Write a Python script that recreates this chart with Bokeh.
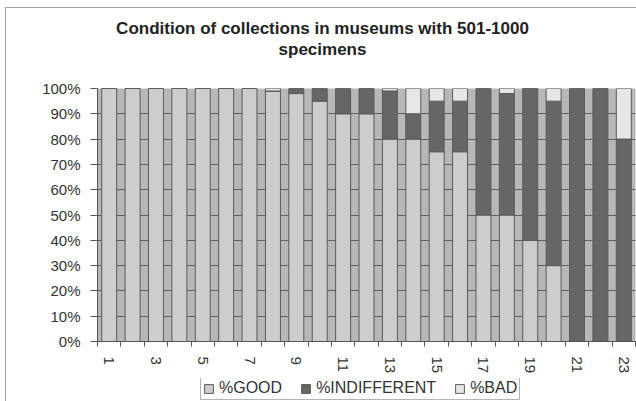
from bokeh.plotting import figure
from bokeh.layouts import column
from bokeh.models import (ColumnDataSource, FixedTicker, PrintfTickFormatter,
                          Legend, LegendItem, Title, InlineStyleSheet)
from bokeh.embed import file_html
from bokeh.resources import INLINE

# Museum index (x categories)
museums = list(range(1, 24))

# Share of the collection in each condition, per museum (percent)
pct_good = [100, 100, 100, 100, 100, 100, 100, 99, 98, 95, 90, 90,
            80, 80, 75, 75, 50, 50, 40, 30, 0, 0, 0]
pct_indifferent = [0, 0, 0, 0, 0, 0, 0, 0, 2, 5, 10, 10,
                   19, 10, 20, 20, 50, 48, 60, 65, 100, 100, 80]
pct_bad = [0, 0, 0, 0, 0, 0, 0, 1, 0, 0, 0, 0,
           1, 10, 5, 5, 0, 2, 0, 5, 0, 0, 20]

series_keys = ["good", "indifferent", "bad"]
series_names = ["%GOOD", "%INDIFFERENT", "%BAD"]
series_colors = ["#cdcdcd", "#666666", "#e6e6e6"]

y_ticks = [0, 10, 20, 30, 40, 50, 60, 70, 80, 90, 100]
x_label_ticks = [1, 3, 5, 7, 9, 11, 13, 15, 17, 19, 21, 23]

title_lines = ["Condition of collections in museums with 501-1000", "specimens"]

FONT = "Liberation Sans"
EDGE = "#5a5a5a"

source = ColumnDataSource(dict(
    museum=museums,
    good=pct_good,
    indifferent=pct_indifferent,
    bad=pct_bad,
))

# ---- main chart -------------------------------------------------------
p = figure(
    width=636, height=378, title=None,
    x_range=(0.5, len(museums) + 0.5), y_range=(0, 100),
    output_backend="svg", toolbar_location=None,
    min_border_left=97, min_border_right=1,
    min_border_top=88, min_border_bottom=37,
    background_fill_color="#b7b7b7", border_fill_color="white",
)
p.outline_line_color = None

p.vbar_stack(
    series_keys, x="museum", width=0.64,
    color=series_colors, line_color=EDGE, line_width=1,
    source=source,
)

# grid
p.xgrid.visible = False
p.ygrid.grid_line_color = "#5f5f5f"
p.ygrid.grid_line_width = 1

# y axis
p.yaxis.ticker = FixedTicker(ticks=y_ticks)
p.yaxis.formatter = PrintfTickFormatter(format="%d%%")
p.yaxis.major_tick_out = 7
p.yaxis.major_tick_in = 0
p.yaxis.minor_tick_line_color = None
p.yaxis.major_label_standoff = 10
p.yaxis.axis_line_color = "#555555"
p.yaxis.major_tick_line_color = "#555555"
p.yaxis.major_label_text_font = FONT
p.yaxis.major_label_text_font_size = "15px"
p.yaxis.major_label_text_color = "#333333"

# x axis: labels on odd museums, tick marks on category boundaries
boundaries = [m - 0.5 for m in museums] + [museums[-1] + 0.5]
p.xaxis.ticker = FixedTicker(ticks=x_label_ticks, minor_ticks=boundaries)
p.xaxis.major_tick_line_color = None
p.xaxis.major_tick_out = 0
p.xaxis.major_tick_in = 0
p.xaxis.minor_tick_out = 5
p.xaxis.minor_tick_in = 0
p.xaxis.minor_tick_line_color = "#555555"
p.xaxis.axis_line_color = "#555555"
p.xaxis.major_label_orientation = "vertical"
p.xaxis.major_label_standoff = 10
p.xaxis.major_label_text_font = FONT
p.xaxis.major_label_text_font_size = "15px"
p.xaxis.major_label_text_color = "#333333"

# two-line title; panels stack outward from the frame in the order added
TITLE_SIZE = 17
line_widths = [24.28 * TITLE_SIZE, 5.17 * TITLE_SIZE]   # approx. bold text widths
title_center = 322 - 97
p.add_layout(Title(text=" ", text_font_size="1px", standoff=27), "above")
p.add_layout(Title(
    text=title_lines[1], align="left", offset=title_center - line_widths[1] / 2,
    standoff=0, text_font=FONT, text_font_style="bold",
    text_font_size=f"{TITLE_SIZE}px", text_color="#222222",
), "above")
p.add_layout(Title(
    text=title_lines[0], align="left", offset=title_center - line_widths[0] / 2,
    standoff=0, text_font=FONT, text_font_style="bold",
    text_font_size=f"{TITLE_SIZE}px", text_color="#222222",
), "above")

# ---- legend strip under the chart (frame aligned with the chart's) ----
lf = figure(
    width=636, height=23, title=None,
    x_range=(0, 1), y_range=(0, 1),
    output_backend="svg", toolbar_location=None,
    min_border=0, border_fill_color="white", background_fill_color="white",
)
lf.outline_line_color = None
lf.axis.visible = False
lf.grid.visible = False

# hidden renderers that only supply the legend swatches
swatches = []
for key, c in zip(series_keys, series_colors):
    r = lf.vbar(x="museum", top=key, width=0.5, source=source,
                fill_color=c, line_color=EDGE)
    r.visible = False
    swatches.append(r)

legend = Legend(
    items=[LegendItem(label=name, renderers=[r]) for name, r in zip(series_names, swatches)],
    orientation="horizontal",
    location=(103, 1),
    padding=2, spacing=18, margin=0,
    glyph_width=11, glyph_height=11, label_standoff=5,
    label_height=12,
    label_text_font=FONT, label_text_font_size="16px", label_text_color="#333333",
    border_line_color="#6a6a6a", border_line_width=1,
    background_fill_color="white", background_fill_alpha=1,
    inactive_fill_alpha=0,
)
lf.add_layout(legend)

layout = column(p, lf, spacing=0)

# thin border of the chart area
layout.stylesheets = [InlineStyleSheet(css="""
:host::after {
  content: ""; position: absolute; left: 5px; top: 7px;
  width: 700px; height: 500px; box-sizing: border-box;
  border-left: 1.5px solid #a0a0a0; border-top: 1.5px solid #a0a0a0;
  pointer-events: none;
}
""")]

open("out.html", "w").write(file_html(layout, INLINE))
